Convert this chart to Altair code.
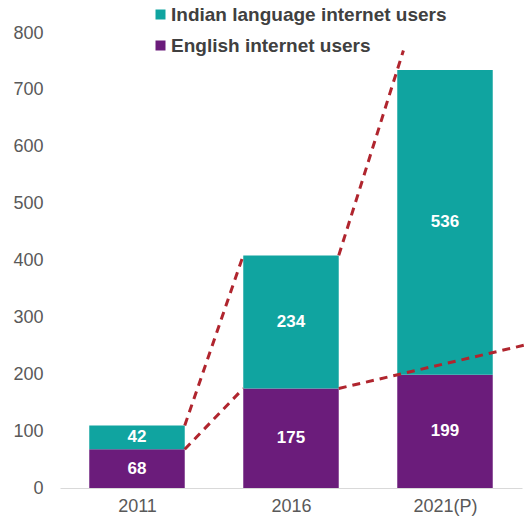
import altair as alt
import pandas as pd
import json

years = ["2011", "2016", "2021(P)"]
english = [68, 175, 199]
indian = [42, 234, 536]
series = ["Indian language internet users", "English internet users"]
colors = ["#10A4A0", "#6B1C7B"]

HALF = 0.31  # bar half width in category units
FONT = "Liberation Sans"

rows = []
for i, y in enumerate(years):
    rows.append({"idx": i, "series": series[1], "y0": 0, "y1": english[i], "val": english[i]})
    rows.append({"idx": i, "series": series[0], "y0": english[i], "y1": english[i] + indian[i], "val": indian[i]})
df = pd.DataFrame(rows)
df["xl"] = df["idx"] - HALF
df["xr"] = df["idx"] + HALF
df["mid"] = (df["y0"] + df["y1"]) / 2

totals = [e + n for e, n in zip(english, indian)]

# dashed connector lines from right edge of one bar to left edge of next
lines = []
def seg(name, x0, v0, x1, v1, xend=None):
    lines.append({"seg": name, "x": x0, "v": v0})
    if xend is None:
        lines.append({"seg": name, "x": x1, "v": v1})
    else:
        slope = (v1 - v0) / (x1 - x0)
        lines.append({"seg": name, "x": xend, "v": v0 + slope * (xend - x0)})

seg("t1", 0 + HALF, totals[0], 1 - HALF, totals[1])
seg("t2", 1 + HALF, totals[1], 2 - HALF, totals[2], xend=2 - HALF + 0.04)
seg("e1", 0 + HALF, english[0], 1 - HALF, english[1])
seg("e2", 1 + HALF, english[1], 2 - HALF, english[2], xend=2.53)
ldf = pd.DataFrame(lines)

xscale = alt.Scale(domain=[-0.5, 2.5], nice=False, zero=False)
yscale = alt.Scale(domain=[0, 800], nice=False)

label_expr = json.dumps(years) + "[datum.value]"

xaxis = alt.Axis(
    values=[0, 1, 2], labelExpr=label_expr, title=None, grid=False, ticks=False,
    domainColor="#D9D9D9", domainWidth=1, labelColor="#595959", labelFont=FONT,
    labelFontSize=18, labelPadding=9)
yaxis = alt.Axis(
    values=list(range(0, 801, 100)), title=None, grid=False, ticks=False, domain=False,
    labelColor="#595959", labelFont=FONT, labelFontSize=18, labelPadding=17)

bars = alt.Chart(df).mark_bar().encode(
    x=alt.X("xl:Q", scale=xscale, axis=xaxis),
    x2="xr:Q",
    y=alt.Y("y0:Q", scale=yscale, axis=yaxis),
    y2="y1:Q",
    color=alt.Color("series:N", scale=alt.Scale(domain=series, range=colors), legend=alt.Legend(
        title=None, orient="none", legendX=91, legendY=-28, symbolType="square", symbolSize=100,
        symbolStrokeWidth=0, labelFont=FONT, labelFontSize=19, labelFontWeight="bold",
        labelColor="#404040", rowPadding=11, labelOffset=1, labelLimit=400)),
)

labels = alt.Chart(df).mark_text(color="white", font=FONT, fontSize=17, fontWeight="bold").encode(
    x=alt.X("idx:Q", scale=xscale, axis=xaxis),
    y=alt.Y("mid:Q", scale=yscale, axis=yaxis),
    text="val:Q",
)

dash = alt.Chart(ldf).mark_line(color="#B0252E", strokeWidth=3, strokeDash=[8, 6]).encode(
    x=alt.X("x:Q", scale=xscale, axis=xaxis),
    y=alt.Y("v:Q", scale=yscale, axis=yaxis),
    detail="seg:N",
)

chart = alt.layer(bars, dash, labels).properties(
    width=462, height=455,
    background="white",
    autosize=alt.AutoSizeParams(type="none"),
    padding={"left": 60, "top": 33, "right": 5, "bottom": 34},
).configure_view(strokeWidth=0, stroke="transparent")

chart.save("out.html", embed_options={"renderer": "svg", "actions": False})
